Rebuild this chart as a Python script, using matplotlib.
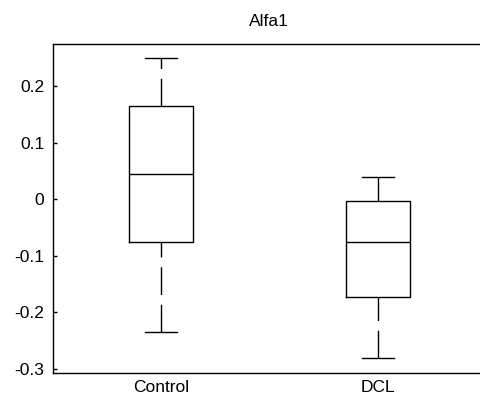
import matplotlib
matplotlib.use('Agg')
import matplotlib.pyplot as plt

plt.rcParams['font.family'] = ['Liberation Sans', 'DejaVu Sans']
plt.rcParams['lines.scale_dashes'] = False

groups = ['Control', 'DCL']
whislo = [-0.235, -0.280]
q1 = [-0.075, -0.172]
med = [0.044, -0.075]
q3 = [0.165, -0.003]
whishi = [0.250, 0.039]

stats = []
for i in range(len(groups)):
    stats.append({'label': groups[i], 'whislo': whislo[i], 'q1': q1[i],
                  'med': med[i], 'q3': q3[i], 'whishi': whishi[i], 'fliers': []})

fig = plt.figure(figsize=(4.8, 4.0), dpi=100)
ax = fig.add_axes([0.110, 0.0675, 0.9025, 0.8225])

lw = 1.0
parts = ax.bxp(stats, positions=[1, 2], widths=0.295, showfliers=False,
               boxprops=dict(color='black', linewidth=lw),
               medianprops=dict(color='black', linewidth=lw),
               whiskerprops=dict(color='black', linewidth=lw, linestyle=(0, (20, 7))),
               capprops=dict(color='black', linewidth=lw), capwidths=0.147)
# matlab style: whiskers drawn from bottom to top
for w in parts['whiskers']:
    y = w.get_ydata()
    if y[0] > y[1]:
        w.set_ydata(y[::-1])

ax.set_xlim(0.5, 2.5)
ax.set_ylim(-0.307, 0.274)
ax.set_yticks([-0.3, -0.2, -0.1, 0, 0.1, 0.2])
ax.set_yticklabels(['-0.3', '-0.2', '-0.1', '0', '0.1', '0.2'])
ax.tick_params(axis='y', direction='in', length=3, labelsize=12.5, width=lw, pad=6)
ax.tick_params(axis='x', length=0, labelsize=12.5, pad=5)
for s in ax.spines.values():
    s.set_linewidth(lw)
ax.set_title('Alfa1', fontsize=12.5, pad=13)

fig.savefig('out.png', dpi=100)
